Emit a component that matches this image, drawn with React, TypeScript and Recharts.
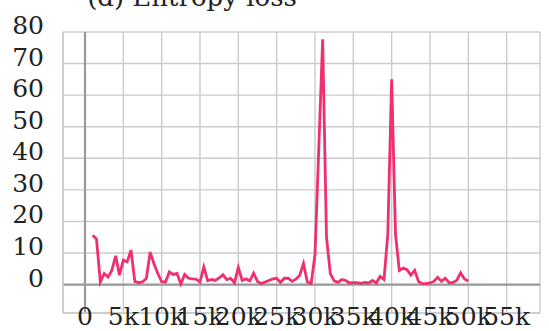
import React from "react";
import { LineChart, Line, XAxis, YAxis, CartesianGrid, ReferenceLine } from "recharts";

const steps = [
  1000, 1500, 2000, 2500, 3000, 3500, 4000, 4500, 5000, 5500, 6000, 6500, 7000, 7500, 8000, 8500, 9000, 9500,
  10000, 10500, 11000, 11500, 12000, 12500, 13000, 13500, 14000, 14500, 15000, 15500, 16000, 16500, 17000,
  17500, 18000, 18500, 19000, 19500, 20000, 20500, 21000, 21500, 22000, 22500, 23000, 23500, 24000, 24500,
  25000, 25500, 26000, 26500, 27000, 27500, 28000, 28500, 29000, 29500, 30000, 31000, 31500, 32000, 32500,
  33000, 33500, 34000, 34500, 35000, 35500, 36000, 36500, 37000, 37500, 38000, 38500, 39000, 39500, 40000,
  40500, 41000, 41500, 42000, 42500, 43000, 43500, 44000, 44500, 45000, 45500, 46000, 46500, 47000, 47500,
  48000, 48500, 49000, 49500, 50000,
];

const entropyLoss = [
  15.6, 14.4, 0.8, 3.5, 2.4, 4.5, 9.1, 3.0, 7.7, 7.2, 10.9, 1.0, 0.6, 0.9, 1.9, 10.3, 6.6, 3.5,
  0.9, 0.8, 4.0, 3.2, 3.5, 0.2, 3.2, 2.0, 1.8, 1.7, 0.8, 5.6, 1.2, 1.6, 1.3,
  2.1, 3.1, 1.6, 2.0, 0.6, 5.4, 1.3, 1.8, 1.2, 3.6, 1.0, 0.3, 0.8, 1.3, 1.8,
  2.0, 0.7, 2.0, 2.0, 1.0, 1.7, 2.9, 6.7, 0.8, 0.3, 9.5, 77.7, 15.0, 3.5, 1.2,
  0.7, 1.6, 1.3, 0.5, 0.6, 0.6, 0.4, 0.7, 0.5, 1.3, 0.5, 2.6, 1.6, 16.0, 65.0,
  16.0, 4.5, 5.2, 4.7, 3.0, 4.5, 1.0, 0.3, 0.3, 0.5, 1.0, 2.3, 1.0, 2.0, 0.6,
  0.6, 1.4, 3.7, 1.8, 1.1,
];

const xTicks = [0, 5000, 10000, 15000, 20000, 25000, 30000, 35000, 40000, 45000, 50000, 55000];
const yTicks = [0, 10, 20, 30, 40, 50, 60, 70, 80];
const title = "(d) Entropy loss";

const data = steps.map((s, i) => ({ step: s, loss: entropyLoss[i] }));

const FONT = '"DejaVu Serif", serif';
const FS = 25;

const fmtX = (v: number) => (v === 0 ? "0" : `${v / 1000}k`);

const XTick = (props: any) => {
  const { x, y, payload } = props;
  return (
    <text x={x} y={y} textAnchor="middle" style={{ fontFamily: FONT, fontSize: FS }} fill="#222">
      {fmtX(payload.value)}
    </text>
  );
};

const YTick = (props: any) => {
  const { x, y, payload } = props;
  return (
    <text x={x} y={y} dy={2} textAnchor="end" style={{ fontFamily: FONT, fontSize: FS }} fill="#222">
      {payload.value}
    </text>
  );
};

export default function App() {
  return (
    <div style={{ position: "absolute", left: 0, top: 0, width: 549, height: 331, background: "#fff", fontFamily: FONT }}>
      <LineChart
        width={549}
        height={331}
        data={data}
        margin={{ top: 32, right: 9, bottom: 0, left: 3 }}
      >
        <CartesianGrid stroke="#cbcbcb" strokeWidth={1.4} />
        <XAxis
          dataKey="step"
          type="number"
          domain={[-2870, 59350]}
          ticks={xTicks}
          allowDataOverflow
          height={18}
          tickLine={false}
          tickSize={12}
          tickMargin={0}
          axisLine={{ stroke: "#cbcbcb", strokeWidth: 1.4 }}
          tick={<XTick />}
          interval={0}
        />
        <YAxis
          type="number"
          domain={[-9, 80]}
          ticks={yTicks}
          allowDataOverflow
          width={60}
          tickLine={false}
          tickSize={19}
          tickMargin={0}
          axisLine={{ stroke: "#cbcbcb", strokeWidth: 1.4 }}
          tick={<YTick />}
          interval={0}
        />
        <ReferenceLine y={0} stroke="#999999" strokeWidth={2.2} />
        <ReferenceLine x={0} stroke="#999999" strokeWidth={2.2} />
        <Line
          type="linear"
          dataKey="loss"
          stroke="#ef2f6f"
          strokeWidth={2.8}
          dot={false}
          isAnimationActive={false}
        />
      </LineChart>
      <svg
        width={549}
        height={40}
        style={{ position: "absolute", left: 0, top: 0, pointerEvents: "none" }}
      >
        <text x={192} y={6} textAnchor="middle" style={{ fontFamily: FONT, fontSize: 26 }} fill="#222">
          {title}
        </text>
      </svg>
    </div>
  );
}
